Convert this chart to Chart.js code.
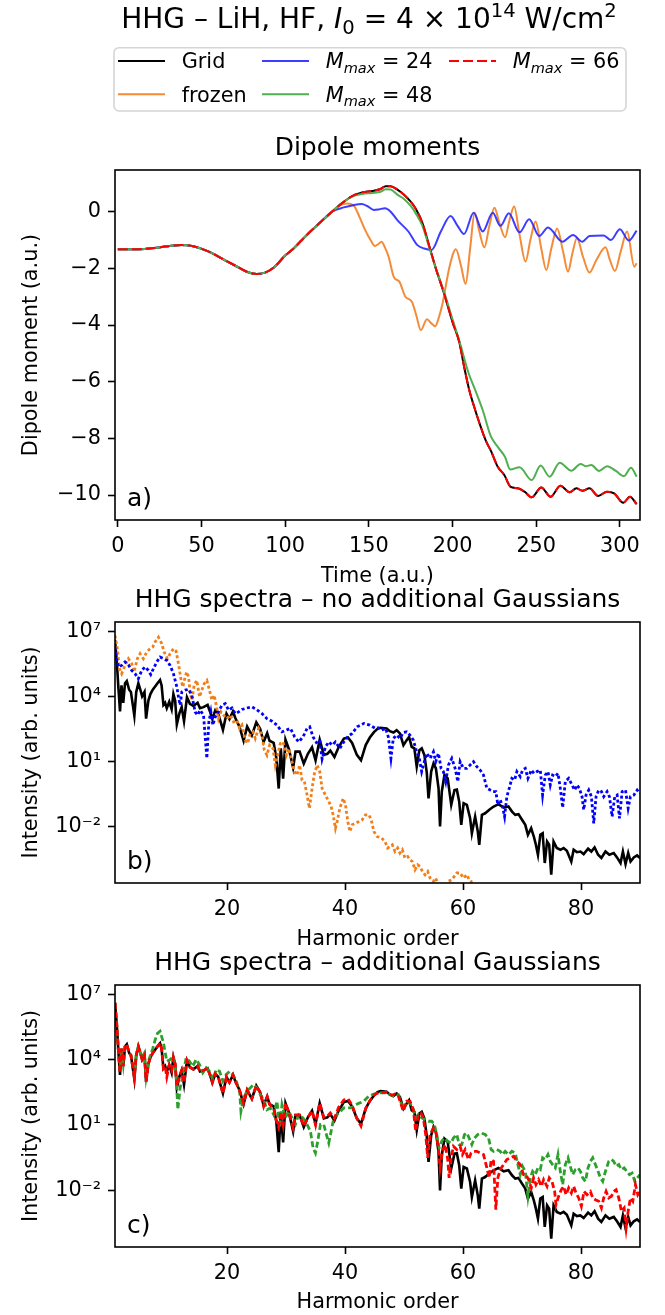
<!DOCTYPE html>
<html>
<head>
<meta charset="utf-8">
<script src="https://cdn.jsdelivr.net/npm/chart.js@4.4.1/dist/chart.umd.min.js"></script>
<style>
  body { margin: 0; background: #fff; }
  #wrap { position: relative; width: 665px; height: 1315px; }
  canvas { position: absolute; left: 0; top: 0; }
</style>
</head>
<body>
<div id="wrap">
  <canvas id="chartA" width="665" height="1315"></canvas>
  <canvas id="chartB" width="665" height="1315"></canvas>
  <canvas id="chartC" width="665" height="1315"></canvas>
</div>
<script>
/* =========================
   DATA
========================= */

// panel a) dipole moment vs time, [t, d]
const earlyA = [[0,-1.33],[10,-1.33],[20,-1.29],[30,-1.22],[38,-1.18],[45,-1.22],[54,-1.4],[62,-1.65],[70,-1.9],[77,-2.12],[83,-2.2],[88,-2.15],[93,-1.98],[100,-1.55],[105,-1.3],[110,-1.0],[116,-0.65],[122,-0.32],[128,0.0]];

const gridTailA = [[134,0.3],[140,0.55],[146,0.68],[152,0.73],[157,0.8],[160,0.9],[163,0.9],[167,0.78],[171,0.6],[175,0.35],[178,0.1],[182,-0.4],[186,-1.2],[190,-2.0],[195,-2.9],[200,-3.9],[204,-4.6],[207,-5.5],[210,-6.3],[213,-6.9],[216,-7.45],[220,-8.1],[223,-8.45],[227,-9.0],[231,-9.3],[234.5,-9.7],[239,-9.76],[243,-9.88],[247.3,-10.08],[253,-9.73],[258.6,-10.06],[264.4,-9.67],[270,-9.9],[274,-9.76],[277.5,-9.85],[281.8,-9.76],[287,-10.03],[292.3,-9.88],[296.6,-9.94],[302,-10.27],[306,-10.06],[310,-10.32]];

const frozenTailA = [[132,0.2],[137,0.29],[141.4,0.18],[144.5,-0.2],[147.8,-0.65],[151,-1.0],[153.6,-1.21],[155.5,-1.15],[157.5,-1.06],[159.5,-1.25],[161.8,-1.59],[165,-2.32],[168.2,-2.47],[171.8,-3.0],[175.7,-3.18],[178.5,-3.7],[181,-4.18],[184.7,-3.8],[187.5,-3.95],[189.6,-4.04],[192,-3.7],[194,-3.24],[198.2,-1.94],[202,-1.33],[205,-1.9],[207.8,-2.55],[210.5,-1.3],[213.2,-0.04],[216,-0.7],[219,-1.26],[222,-0.5],[225,0.14],[228,-0.4],[231.4,-0.9],[234,-0.3],[236.8,0.18],[240,-0.8],[243.6,-1.76],[246.5,-1.0],[249.6,-0.35],[253,-1.3],[256,-2.06],[259,-1.3],[262.5,-0.59],[266,-1.4],[269,-2.12],[271.5,-1.5],[274.3,-0.94],[278,-1.6],[281.8,-2.15],[286,-1.7],[291.4,-1.26],[294,-1.7],[297,-2.09],[300.5,-1.4],[304.3,-0.7],[308.6,-1.94],[310,-1.82]];

const m24TailA = [[135,0.15],[140,0.22],[145.7,0.27],[149,0.2],[153,0.06],[156,0.08],[159.6,0.12],[163,0.0],[167,-0.3],[173.6,-0.7],[179,-1.18],[183,-1.3],[187.5,-1.35],[193,-0.7],[198.8,-0.15],[203,-0.5],[206.8,-0.79],[212.6,-0.04],[218,-0.7],[224,-0.04],[228.6,-0.5],[233.6,-0.06],[240,-0.73],[245.8,-0.27],[251.8,-0.86],[257,-0.56],[265.7,-1.06],[272,-0.82],[277.5,-1.06],[281.8,-0.86],[290.3,-0.84],[294.6,-1.0],[300,-0.62],[305.3,-1.02],[310,-0.67]];

const m48TailA = [[134,0.3],[140,0.53],[146,0.62],[152,0.66],[157,0.7],[160,0.79],[163,0.78],[167,0.6],[171,0.45],[175,0.2],[178,-0.06],[182,-0.5],[186,-1.25],[190,-2.0],[195,-2.85],[200,-3.8],[204,-4.55],[209.6,-5.7],[213.9,-6.35],[218,-7.0],[222.7,-7.9],[227,-8.3],[231.3,-8.65],[234.5,-9.1],[240,-9.02],[247.3,-9.47],[252.6,-8.96],[258,-9.35],[264,-8.86],[271,-9.14],[276.5,-8.9],[279.6,-8.98],[282.9,-8.94],[287.6,-9.15],[292.3,-8.98],[297.6,-9.15],[302.4,-9.33],[306.6,-9.04],[310,-9.35]];

const m66TailA = [[134,0.3],[140,0.55],[146,0.68],[152,0.73],[157,0.8],[160,0.9],[163,0.9],[167,0.78],[171,0.6],[175,0.35],[178,0.1],[182,-0.4],[186,-1.2],[190,-2.0],[195,-2.9],[200,-3.9],[204,-4.6],[207,-5.5],[210,-6.3],[213,-6.9],[216,-7.45],[220,-8.1],[223,-8.45],[227,-9.0],[231,-9.3],[234.5,-9.7],[239,-9.76],[243,-9.88],[247.3,-10.08],[253,-9.73],[258.6,-10.06],[264.4,-9.67],[270,-9.9],[274,-9.76],[277.5,-9.85],[281.8,-9.76],[287,-10.03],[292.3,-9.88],[296.6,-9.94],[302,-10.27],[306,-10.06],[310,-10.32]];

// panels b) and c) HHG spectra, [harmonic order, log10 intensity]
const gridSpec = [[1.0,6.6],[1.3,5.6],[1.55,4.5],[1.85,3.3],[2.1,4.5],[2.4,3.7],[2.7,4.6],[3.0,4.7],[3.4,4.3],[3.7,4.2],[4.28,3.1],[4.6,4.2],[4.96,4.6],[5.3,4.3],[5.6,4.0],[6.0,4.2],[6.27,2.97],[6.66,3.8],[7.0,4.1],[7.4,4.3],[7.8,4.45],[8.2,4.6],[8.64,4.75],[8.9,4.5],[9.21,3.6],[9.5,3.7],[9.78,3.45],[10.2,3.75],[10.6,3.4],[10.9,4.1],[11.2,3.8],[11.48,2.7],[11.9,3.2],[12.3,3.5],[12.7,2.85],[13.2,3.95],[13.7,3.65],[14.3,3.55],[15.0,3.7],[15.4,3.45],[16.0,3.5],[16.7,3.6],[17.1,3.3],[17.5,2.95],[18.0,3.35],[18.5,3.2],[19.3,2.45],[19.9,3.2],[20.4,2.95],[21.0,3.3],[21.4,3.0],[22.1,2.6],[22.8,1.95],[23.4,2.6],[24.2,2.2],[24.95,2.8],[25.6,2.5],[26.2,1.9],[26.8,2.3],[27.2,1.95],[27.9,1.85],[28.35,1.15],[28.75,-0.25],[29.1,1.6],[29.5,0.2],[29.9,2.0],[30.5,1.55],[31.2,0.7],[31.6,1.45],[32.3,1.45],[33.0,0.9],[33.7,1.35],[34.4,1.65],[35.0,1.05],[35.7,2.0],[36.4,1.3],[37.0,1.35],[37.5,1.5],[38.2,1.2],[38.9,1.65],[39.8,2.05],[40.5,2.1],[41.2,1.85],[42.0,1.3],[42.7,1.05],[43.5,1.75],[44.2,2.1],[44.9,2.35],[45.5,2.5],[46.0,2.55],[47.05,2.52],[47.6,2.39],[48.2,2.33],[48.75,2.44],[49.3,2.29],[49.9,1.75],[50.45,1.98],[50.85,2.13],[51.3,1.67],[51.75,1.6],[52.15,0.76],[52.6,1.52],[53.0,1.6],[53.45,1.29],[53.85,0.5],[54.15,-0.7],[54.6,0.53],[55.0,0.91],[55.4,0.68],[55.85,-0.24],[56.1,-2.0],[56.4,-0.39],[56.85,0.37],[57.4,0.22],[58.0,-1.0],[58.55,-0.32],[58.95,-0.3],[59.35,-0.85],[59.7,-1.92],[60.1,-0.93],[60.65,-1.0],[61.2,-1.62],[61.5,-2.31],[62.05,-1.54],[62.5,-2.23],[62.75,-2.84],[63.2,-1.46],[63.75,-1.39],[64.45,-1.23],[65.2,-1.08],[66.0,-0.97],[66.9,-1.13],[67.7,-1.08],[68.3,-1.31],[68.85,-1.46],[69.4,-1.43],[70.0,-1.69],[70.55,-1.92],[71.0,-2.38],[71.55,-2.08],[72.0,-2.46],[72.35,-2.84],[72.7,-3.3],[73.1,-2.38],[73.5,-2.31],[73.85,-3.68],[74.25,-2.69],[74.6,-2.84],[74.95,-4.22],[75.35,-2.69],[75.9,-2.99],[76.5,-3.07],[77.05,-2.99],[77.6,-3.12],[78.35,-3.61],[78.75,-3.07],[79.3,-3.18],[79.9,-3.15],[80.45,-3.27],[81.2,-3.02],[81.75,-3.15],[82.3,-2.96],[82.9,-3.3],[83.45,-3.45],[84.15,-3.15],[84.8,-3.3],[85.55,-3.22],[86.1,-3.42],[86.7,-3.68],[87.1,-3.15],[87.55,-3.73],[88.0,-3.22],[88.4,-3.61],[88.95,-3.42],[89.5,-3.33],[90.0,-3.45]];

const frozenSpec = [[1.0,6.8],[1.4,6.19],[1.74,5.27],[2.13,5.04],[2.7,5.42],[3.27,5.73],[3.83,5.5],[4.23,5.12],[4.79,5.73],[5.25,5.96],[5.81,5.73],[6.38,6.04],[6.95,6.19],[7.4,6.27],[7.8,6.5],[8.36,6.72],[8.93,6.42],[9.32,6.04],[9.89,5.73],[10.34,5.96],[10.91,6.19],[11.36,6.07],[11.76,5.5],[12.16,4.81],[12.5,4.43],[12.89,4.89],[13.17,5.12],[13.46,4.89],[13.74,4.2],[14.02,3.82],[14.42,4.51],[14.87,4.73],[15.33,3.97],[15.72,4.28],[16.12,4.58],[16.57,4.73],[17.02,4.28],[17.42,3.82],[17.82,4.05],[18.16,3.59],[18.55,2.97],[18.95,3.28],[19.4,3.13],[19.97,2.97],[20.54,3.13],[21.1,2.82],[21.67,2.9],[22.12,2.52],[22.52,2.67],[23.08,1.98],[23.48,1.83],[23.93,2.29],[24.39,2.36],[24.78,2.06],[25.35,2.52],[25.92,2.21],[26.31,1.52],[26.76,1.29],[27.22,1.75],[27.78,1.6],[28.18,0.83],[28.58,1.29],[29.03,1.83],[29.48,1.9],[30.05,1.29],[30.44,1.6],[31.01,0.99],[31.41,0.53],[31.86,0.37],[32.31,0.83],[32.71,0.14],[33.11,0.07],[33.56,-0.55],[33.96,-1.16],[34.41,-0.24],[34.81,0.45],[35.26,0.83],[35.71,0.53],[36.11,-0.24],[36.67,-0.55],[37.24,-0.85],[37.64,-1.08],[37.98,-1.46],[38.37,-2.08],[38.66,-1.77],[39.11,-1.16],[39.68,-0.7],[40.07,-1.0],[40.47,-1.77],[40.81,-2.23],[41.2,-1.92],[41.77,-1.85],[42.34,-1.77],[42.9,-1.69],[43.47,-1.46],[44.04,-1.46],[44.43,-1.69],[44.89,-2.23],[45.45,-2.46],[46.2,-2.53],[46.77,-2.69],[47.22,-2.99],[47.61,-2.92],[48.01,-2.84],[48.46,-3.15],[48.92,-2.99],[49.31,-3.22],[49.71,-3.07],[50.16,-3.45],[50.62,-3.38],[51.01,-3.53],[51.41,-3.61],[51.86,-3.99],[52.31,-3.76],[52.71,-3.84],[53.11,-4.07],[53.56,-4.22],[54.01,-4.07],[54.41,-4.37],[54.98,-4.52],[55.37,-4.37],[55.83,-4.75],[56.67,-5.0],[57.52,-4.52],[58.09,-4.45],[58.94,-4.14],[59.51,-4.14],[60.07,-4.37],[60.64,-4.22],[61.03,-4.45],[61.37,-4.52],[62.0,-5.5]];

const m24Spec = [[1.0,6.27],[1.28,5.73],[1.57,5.35],[2.13,5.42],[2.7,5.58],[3.27,5.45],[3.83,5.19],[4.4,5.04],[4.96,4.81],[5.53,5.19],[6.1,5.35],[6.66,5.19],[7.06,5.0],[7.51,5.27],[8.08,5.58],[8.64,5.81],[9.21,5.73],[9.78,5.65],[10.34,5.42],[10.91,5.04],[11.48,4.43],[11.76,3.97],[12.04,3.59],[12.33,4.2],[12.89,4.28],[13.46,4.32],[14.02,4.05],[14.59,3.28],[14.99,3.13],[15.44,3.36],[16.01,3.13],[16.57,1.14],[16.91,2.82],[17.25,3.28],[17.59,2.67],[17.99,3.05],[18.55,3.28],[19.12,3.59],[19.69,3.66],[20.25,3.36],[20.82,3.46],[21.38,3.2],[21.95,3.28],[22.52,3.39],[23.37,3.46],[24.22,3.51],[24.97,3.39],[25.92,3.2],[26.76,2.97],[27.61,2.85],[28.46,2.67],[29.31,2.36],[30.05,2.44],[30.73,2.52],[31.46,2.13],[32.14,1.9],[32.88,2.13],[33.56,2.52],[34.01,2.59],[34.58,2.13],[35.14,1.87],[35.71,1.98],[36.11,1.11],[36.67,1.67],[37.24,1.9],[37.81,1.75],[38.37,1.9],[39.11,1.6],[39.79,1.9],[40.47,2.13],[41.2,2.29],[42.05,2.59],[43.19,2.75],[44.2,2.67],[45.17,2.52],[45.6,2.55],[46.2,2.44],[46.88,2.52],[47.33,2.13],[47.78,1.14],[48.18,2.06],[48.75,2.21],[49.31,2.06],[49.88,2.33],[50.45,2.36],[51.01,2.21],[51.58,1.98],[52.14,1.44],[52.54,1.21],[52.99,0.53],[53.45,0.99],[53.84,1.37],[54.41,1.14],[54.98,1.44],[55.37,0.99],[55.83,1.37],[56.28,0.68],[56.67,0.53],[57.07,0.07],[57.52,0.83],[58.09,1.14],[58.66,0.68],[59.11,0.07],[59.51,0.99],[60.07,0.68],[60.64,0.68],[61.2,0.83],[61.77,0.99],[62.34,0.76],[62.9,0.6],[63.47,0.37],[64.04,-0.24],[64.6,-0.32],[65.06,-0.39],[65.56,-0.39],[65.9,-1.0],[66.3,-0.77],[66.7,-1.08],[67.04,-1.54],[67.43,-0.62],[67.83,-0.24],[68.28,0.22],[68.74,0.14],[69.13,0.53],[69.7,0.3],[70.09,0.6],[70.55,0.68],[71.0,0.22],[71.57,0.6],[72.02,0.45],[72.53,0.53],[73.1,0.6],[73.49,-0.55],[73.94,0.37],[74.4,0.53],[74.79,-0.09],[75.19,0.37],[75.64,0.3],[76.1,0.45],[76.49,-0.24],[76.89,-1.13],[77.34,0.07],[77.91,0.22],[78.48,-0.09],[78.93,-0.32],[79.32,-0.09],[79.72,-0.24],[80.17,-0.62],[80.46,-1.23],[80.85,-0.55],[81.31,-0.32],[81.76,-0.62],[82.16,-1.85],[82.55,-0.62],[83.0,-0.32],[83.46,-0.39],[83.85,-0.62],[84.42,-0.39],[84.82,-0.62],[85.27,-1.54],[85.72,-0.62],[86.12,-0.55],[86.52,-1.62],[86.97,-0.39],[87.54,-0.32],[87.99,-1.16],[88.38,-0.62],[88.95,-0.55],[89.52,-0.32],[90.0,-0.47]];

const m48Spec = [[1.0,6.6],[1.3,5.6],[1.55,4.5],[1.85,3.5],[2.1,4.5],[2.4,3.8],[2.7,4.6],[3.0,4.7],[3.4,4.3],[3.7,4.2],[4.28,3.3],[4.6,4.2],[4.96,4.6],[5.3,4.3],[5.6,4.1],[6.0,4.3],[6.27,3.2],[6.66,3.9],[7.0,4.2],[7.4,4.5],[7.8,4.9],[8.2,5.2],[8.64,5.3],[9.21,4.77],[9.78,3.92],[10.34,4.0],[10.91,4.15],[11.36,3.31],[11.65,1.7],[12.04,2.7],[12.5,3.24],[13.06,4.08],[13.63,3.92],[14.19,3.69],[14.76,4.0],[15.33,3.77],[15.89,3.39],[16.46,3.62],[17.02,3.46],[17.59,3.08],[18.16,3.54],[18.72,3.46],[19.29,3.01],[19.86,3.31],[20.42,3.46],[20.99,3.31],[21.55,3.01],[22.12,2.55],[22.35,1.63],[22.8,2.24],[23.37,2.55],[23.93,2.7],[24.5,2.85],[25.07,2.7],[25.63,2.39],[26.2,2.16],[26.76,1.7],[27.33,1.78],[27.9,1.47],[28.46,2.09],[28.92,0.86],[29.31,1.93],[29.88,1.32],[30.45,1.63],[31.01,1.32],[31.58,1.02],[32.14,1.47],[32.88,1.32],[33.56,1.02],[34.13,0.71],[34.58,-0.06],[34.98,-0.29],[35.37,0.25],[35.83,1.02],[36.39,1.02],[36.84,0.56],[37.24,0.17],[37.64,0.71],[38.09,1.32],[38.66,1.48],[39.22,1.63],[39.79,1.78],[40.47,1.78],[41.03,1.78],[41.77,1.93],[42.5,2.01],[43.19,2.09],[44.04,2.32],[44.89,2.42],[45.73,2.47],[47.05,2.47],[48.18,2.32],[49.03,2.39],[49.88,1.7],[50.45,2.09],[51.01,2.01],[51.58,1.7],[51.97,1.32],[52.43,1.48],[52.99,1.32],[53.56,1.25],[54.13,1.17],[54.69,1.17],[55.15,1.02],[55.54,0.56],[55.94,-0.06],[56.39,0.25],[56.84,0.4],[57.41,0.25],[57.98,0.17],[58.37,0.4],[58.94,0.56],[59.34,0.1],[59.79,0.1],[60.24,0.56],[60.64,0.63],[61.03,0.4],[61.49,0.1],[61.94,0.4],[62.51,0.56],[63.07,0.63],[63.75,0.56],[64.32,0.4],[64.77,-0.13],[65.17,-0.21],[65.73,-0.13],[66.3,-0.21],[66.7,-0.36],[67.15,-0.21],[67.72,-0.36],[68.28,-0.21],[68.85,-0.29],[69.3,-0.82],[69.7,-1.28],[70.09,-0.9],[70.55,-1.13],[71.0,-2.27],[71.4,-1.43],[71.79,-1.13],[72.25,-1.28],[72.7,-0.97],[73.1,-1.05],[73.49,-0.51],[73.94,-0.59],[74.4,-0.36],[74.79,-0.67],[75.19,-0.82],[75.64,-0.97],[76.1,-0.36],[76.49,-1.13],[76.89,-1.74],[77.34,-0.82],[77.8,-0.51],[78.19,-0.9],[78.59,-1.28],[79.04,-1.05],[79.49,-0.97],[79.89,-1.13],[80.29,-1.43],[80.74,-1.59],[81.19,-0.97],[81.59,-0.67],[81.99,-0.51],[82.44,-0.82],[82.89,-1.13],[83.29,-1.43],[83.68,-1.59],[84.14,-1.13],[84.7,-0.67],[85.16,-0.59],[85.55,-0.67],[85.95,-0.9],[86.4,-0.82],[86.86,-1.05],[87.31,-0.97],[87.76,-1.13],[88.21,-1.28],[88.67,-1.21],[89.12,-1.59],[89.52,-1.43],[90.0,-1.28]];

const m66Spec = [[1.0,6.6],[1.3,5.6],[1.55,4.5],[1.85,3.4],[2.1,4.5],[2.4,3.7],[2.7,4.6],[3.0,4.7],[3.4,4.3],[3.7,4.2],[4.28,3.2],[4.6,4.2],[4.96,4.6],[5.3,4.3],[5.6,4.0],[6.0,4.2],[6.27,3.0],[6.66,3.8],[7.0,4.1],[7.4,4.3],[7.8,4.45],[8.2,4.6],[8.64,4.75],[8.9,4.5],[9.21,3.6],[9.5,3.7],[9.78,3.2],[10.2,3.75],[10.6,3.5],[10.9,4.1],[11.2,3.8],[11.48,2.8],[11.9,3.2],[12.3,3.5],[12.7,2.95],[13.2,3.95],[13.7,3.65],[14.3,3.55],[15.0,3.7],[15.4,3.45],[16.0,3.5],[16.7,3.6],[17.1,3.3],[17.5,2.95],[18.0,3.35],[18.5,3.2],[19.3,2.45],[19.9,3.2],[20.4,2.95],[21.0,3.3],[21.4,3.0],[22.1,2.6],[22.8,2.0],[23.4,2.6],[24.2,2.2],[24.95,2.8],[25.6,2.5],[26.2,1.85],[26.8,2.3],[27.2,1.95],[27.9,1.75],[28.35,1.2],[28.75,0.9],[29.1,1.6],[29.5,1.0],[29.9,2.0],[30.5,1.55],[31.2,0.85],[31.6,1.45],[32.3,1.45],[33.0,0.95],[33.7,1.35],[34.4,1.65],[35.0,1.0],[35.7,2.0],[36.4,1.35],[37.0,1.4],[37.5,1.55],[38.2,1.3],[38.9,1.8],[39.8,2.15],[40.5,2.2],[41.2,1.9],[42.0,1.3],[42.7,0.95],[43.5,1.75],[44.2,2.1],[45.0,2.4],[45.63,2.47],[47.05,2.5],[47.9,2.36],[48.46,2.42],[49.03,2.32],[49.88,1.63],[50.45,2.09],[51.01,2.09],[51.58,1.7],[51.97,0.71],[52.43,1.48],[52.88,1.55],[53.28,1.32],[53.67,0.56],[54.01,-0.51],[54.41,0.56],[54.98,0.86],[55.43,0.63],[55.83,-0.06],[56.11,-0.97],[56.5,-0.21],[56.96,0.1],[57.41,-0.59],[57.64,-1.43],[57.98,-0.51],[58.37,0.02],[58.94,-0.13],[59.51,0.02],[59.9,-0.36],[60.35,-0.13],[60.92,-0.59],[61.37,-0.29],[61.77,-0.21],[62.34,-0.21],[62.9,-0.29],[63.47,-0.36],[64.04,-0.97],[64.43,-1.43],[64.77,-0.59],[65.17,-0.67],[65.56,-2.89],[65.9,-1.43],[66.3,-1.05],[66.87,-0.82],[67.43,-0.59],[68.0,-0.51],[68.57,-0.44],[69.13,-0.67],[69.7,-0.82],[70.26,-1.28],[70.66,-1.28],[71.11,-1.51],[71.57,-1.89],[71.96,-1.43],[72.36,-1.74],[72.81,-1.51],[73.27,-1.82],[73.66,-1.51],[74.23,-1.82],[74.62,-1.43],[75.08,-1.59],[75.53,-2.05],[75.76,-2.66],[76.21,-2.27],[76.66,-1.97],[77.06,-1.82],[77.46,-2.2],[77.91,-1.89],[78.36,-2.12],[78.76,-1.82],[79.15,-2.12],[79.61,-2.35],[80.06,-2.73],[80.51,-2.05],[81.02,-2.2],[81.59,-2.05],[81.99,-2.35],[82.44,-2.43],[83.0,-2.5],[83.46,-2.81],[83.85,-2.35],[84.25,-2.05],[84.7,-2.35],[85.16,-2.27],[85.55,-2.05],[85.95,-1.97],[86.4,-2.35],[86.86,-2.96],[87.31,-2.81],[87.65,-3.73],[87.99,-2.96],[88.38,-2.35],[88.78,-2.5],[89.23,-1.74],[89.63,-2.2],[90.0,-2.05]];

// ticks and labels
const timeTicks = [0, 50, 100, 150, 200, 250, 300];
const dipoleTicks = [-10, -8, -6, -4, -2, 0];
const orderTicks = [20, 40, 60, 80];
const intensityTicks = [1e-2, 1e1, 1e4, 1e7];
const intensityLabels = ['10\u207B\u00B2', '10\u00B9', '10\u2074', '10\u2077'];

const suptitleParts = [['HHG \u2013 LiH, HF, ', 'n'], ['I', 'i'], ['0', 'sub'], [' = 4 \u00D7 10', 'n'], ['14', 'sup'], [' W/cm', 'n'], ['2', 'sup']];
const legendLabels = [
    [['Grid', 'n']],
    [['frozen', 'n']],
    [['M', 'i'], ['max', 'isub'], [' = 24', 'n']],
    [['M', 'i'], ['max', 'isub'], [' = 48', 'n']],
    [['M', 'i'], ['max', 'isub'], [' = 66', 'n']]
];


/* =========================
   HELPERS
========================= */

Chart.defaults.font.family = '"DejaVu Sans"';
Chart.defaults.color = '#000';

const FS = 20.8;
const FT = 25;
const FSUP = 28;

function xy(pairs){
    return pairs.map(p => ({x: p[0], y: p[1]}));
}

function xyLog(pairs){
    return pairs.map(p => ({x: p[0], y: Math.pow(10, p[1])}));
}

// text with italic / sub / superscript pieces
function drawRich(ctx, parts, x, y, size, align){
    let w = 0;
    const segs = parts.map(([txt, st]) => {
        const small = (st === 'sub' || st === 'sup' || st === 'isub');
        const fs = small ? size * 0.7 : size;
        const font = ((st === 'i' || st === 'isub') ? 'italic ' : '') + fs + 'px "DejaVu Sans"';
        ctx.font = font;
        const sw = ctx.measureText(txt).width;
        let dy = 0;
        if(st === 'sub' || st === 'isub') dy = size * 0.22;
        if(st === 'sup') dy = -size * 0.42;
        const s = {txt, font, x: w, dy};
        w += sw;
        return s;
    });
    const x0 = align === 'center' ? x - w / 2 : x;
    ctx.textAlign = 'left';
    ctx.textBaseline = 'alphabetic';
    segs.forEach(s => {
        ctx.font = s.font;
        ctx.fillText(s.txt, x0 + s.x, y + s.dy);
    });
    return w;
}

function drawLegend(chart, lg){
    const ctx = chart.ctx;
    ctx.save();
    ctx.beginPath();
    ctx.roundRect(lg.box[0], lg.box[1], lg.box[2], lg.box[3], 5);
    ctx.fillStyle = 'rgba(255,255,255,0.8)';
    ctx.fill();
    ctx.strokeStyle = '#d5d5d5';
    ctx.lineWidth = 1.6;
    ctx.stroke();

    chart.data.datasets.forEach((ds, i) => {
        const col = Math.floor(i / lg.rows);
        const row = i % lg.rows;
        const x = lg.colX[col];
        const y = lg.rowY[row];
        ctx.strokeStyle = ds.borderColor;
        ctx.lineWidth = ds.borderWidth;
        ctx.setLineDash(ds.borderDash || []);
        ctx.beginPath();
        ctx.moveTo(x, y);
        ctx.lineTo(x + lg.handle, y);
        ctx.stroke();
        ctx.setLineDash([]);
        ctx.fillStyle = '#000';
        drawRich(ctx, legendLabels[i], x + lg.handle + lg.gap, y + 7.3, FS, 'left');
    });
    ctx.restore();
}

// frame, titles, panel letters, figure title and legend
const decorPlugin = {
    id: 'decor',
    afterDraw(chart, args, o){
        const {ctx, chartArea: a} = chart;
        ctx.save();
        ctx.strokeStyle = '#000';
        ctx.lineWidth = 1.6;
        ctx.strokeRect(a.left, a.top, a.right - a.left, a.bottom - a.top);

        ctx.fillStyle = '#000';
        ctx.font = FT + 'px "DejaVu Sans"';
        ctx.textAlign = 'center';
        ctx.textBaseline = 'alphabetic';
        ctx.fillText(o.title, (a.left + a.right) / 2, a.top - 15);

        ctx.textAlign = 'left';
        ctx.textBaseline = 'middle';
        ctx.fillText(o.panel, a.left + 12, a.bottom - 21);

        if(o.suptitle){
            drawRich(ctx, o.suptitle, 369, 28.3, FSUP, 'center');
        }
        if(o.legend){
            drawLegend(chart, o.legend);
        }
        ctx.restore();
    }
};

const gridOpts = {
    drawOnChartArea: false,
    drawTicks: true,
    tickLength: 7,
    tickWidth: 1.6,
    tickColor: '#000'
};

function axisX(min, max, ticks, title, height, titlePad){
    return {
        type: 'linear',
        bounds: 'data',
        min: min,
        max: max,
        afterBuildTicks: s => { s.ticks = ticks.map(v => ({value: v})); },
        afterFit: s => { s.height = height; },
        ticks: {
            font: {size: FS},
            color: '#000',
            padding: 7,
            autoSkip: false,
            maxRotation: 0,
            callback: v => String(v)
        },
        grid: gridOpts,
        border: {display: false},
        title: {
            display: true,
            text: title,
            font: {size: FS},
            color: '#000',
            padding: {top: 0, bottom: titlePad}
        }
    };
}

function axisY(type, min, max, ticks, labels, title){
    return {
        type: type,
        bounds: 'data',
        min: min,
        max: max,
        afterBuildTicks: s => { s.ticks = ticks.map(v => ({value: v})); },
        afterFit: s => { s.width = 115; },
        ticks: {
            font: {size: FS},
            color: '#000',
            padding: 7,
            autoSkip: false,
            callback: (v, i) => labels[i]
        },
        grid: gridOpts,
        border: {display: false},
        title: {
            display: true,
            text: title,
            font: {size: FS},
            color: '#000',
            padding: {top: 19.5, bottom: 0}
        }
    };
}

function lineSet(label, pairs, color, width, dash, order, log){
    return {
        label: label,
        data: log ? xyLog(pairs) : xy(pairs),
        borderColor: color,
        backgroundColor: color,
        borderWidth: width,
        borderDash: dash,
        pointRadius: 0,
        fill: false,
        tension: 0,
        cubicInterpolationMode: log ? 'default' : 'monotone',
        order: order
    };
}

function baseOptions(pad, decor, scales){
    return {
        responsive: false,
        animation: false,
        devicePixelRatio: 1,
        layout: {padding: pad},
        plugins: {
            legend: {display: false},
            tooltip: {enabled: false},
            decor: decor
        },
        scales: scales
    };
}


/* =========================
   PANEL A - DIPOLE MOMENTS
========================= */

new Chart(document.getElementById('chartA'), {
    type: 'line',
    data: {
        datasets: [
            lineSet('Grid', earlyA.concat(gridTailA), '#000000', 2, [], 5, false),
            lineSet('frozen', earlyA.concat(frozenTailA), 'rgba(242,133,45,0.95)', 2, [], 4, false),
            lineSet('M24', earlyA.concat(m24TailA), 'rgba(40,40,255,0.9)', 2, [], 3, false),
            lineSet('M48', earlyA.concat(m48TailA), 'rgba(80,175,80,1)', 2, [], 2, false),
            lineSet('M66', earlyA.concat(m66TailA), '#ff0000', 2, [10, 4], 1, false)
        ]
    },
    options: baseOptions(
        {left: 0, right: 25, top: 170, bottom: 725},
        {
            title: 'Dipole moments',
            panel: 'a)',
            suptitle: suptitleParts,
            legend: {
                box: [114, 47.7, 512, 63.3],
                rows: 2,
                rowY: [61, 94.3],
                colX: [118, 262, 449],
                handle: 47,
                gap: 16.7
            }
        },
        {
            x: axisX(-1.7, 312, timeTicks, 'Time (a.u.)', 70, 1),
            y: axisY('linear', -10.88, 1.47, dipoleTicks,
                dipoleTicks.map(v => (v < 0 ? '\u2212' : '') + Math.abs(v)),
                'Dipole moment (a.u.)')
        }
    ),
    plugins: [decorPlugin]
});


/* =========================
   PANEL B - NO ADDITIONAL GAUSSIANS
========================= */

new Chart(document.getElementById('chartB'), {
    type: 'line',
    data: {
        datasets: [
            lineSet('Grid', gridSpec, '#000000', 2.6, [], 3, true),
            lineSet('frozen', frozenSpec, '#f07f1a', 2.8, [3, 2.5], 2, true),
            lineSet('M24', m24Spec, '#0000ff', 2.8, [3, 2.5], 1, true)
        ]
    },
    options: baseOptions(
        {left: 0, right: 25, top: 622, bottom: 362},
        {title: 'HHG spectra \u2013 no additional Gaussians', panel: 'b)'},
        {
            x: axisX(1, 90, orderTicks, 'Harmonic order', 70, 1),
            y: axisY('logarithmic', Math.pow(10, -4.6), Math.pow(10, 7.42),
                intensityTicks, intensityLabels, 'Intensity (arb. units)')
        }
    ),
    plugins: [decorPlugin]
});


/* =========================
   PANEL C - ADDITIONAL GAUSSIANS
========================= */

new Chart(document.getElementById('chartC'), {
    type: 'line',
    data: {
        datasets: [
            lineSet('Grid', gridSpec, '#000000', 2.6, [], 3, true),
            lineSet('M48', m48Spec, '#2ca02c', 2.8, [6, 3], 2, true),
            lineSet('M66', m66Spec, '#ff0000', 2.8, [6, 3], 1, true)
        ]
    },
    options: baseOptions(
        {left: 0, right: 25, top: 985, bottom: 0},
        {title: 'HHG spectra \u2013 additional Gaussians', panel: 'c)'},
        {
            x: axisX(1, 90, orderTicks, 'Harmonic order', 68, 0),
            y: axisY('logarithmic', Math.pow(10, -4.6), Math.pow(10, 7.42),
                intensityTicks, intensityLabels, 'Intensity (arb. units)')
        }
    ),
    plugins: [decorPlugin]
});
</script>
</body>
</html>
